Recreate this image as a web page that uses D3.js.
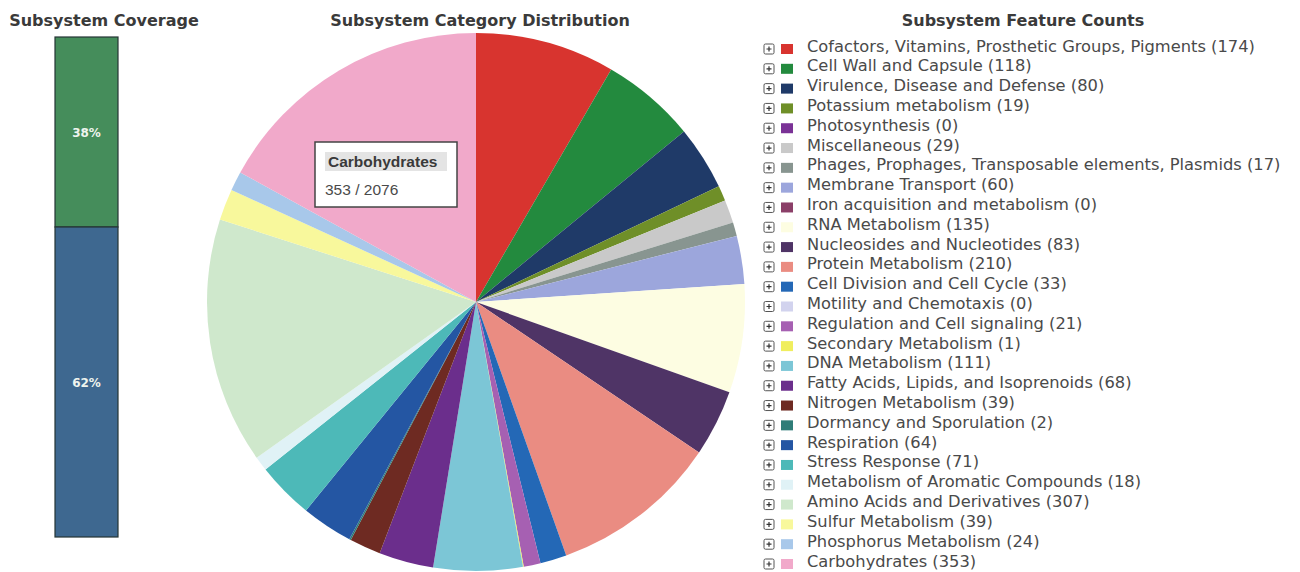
<!DOCTYPE html>
<html>
<head>
    <title>Subsystem Overview</title>
    <script src="https://d3js.org/d3.v7.min.js"></script>
    <style>
        body { margin: 0; background: #fff; }
        text { font-family: "DejaVu Sans", Verdana, sans-serif; }
    </style>
</head>
<body>
<div id="chart"></div>
<script>
    // Data
    const categories = [
        "Cofactors, Vitamins, Prosthetic Groups, Pigments",
        "Cell Wall and Capsule",
        "Virulence, Disease and Defense",
        "Potassium metabolism",
        "Photosynthesis",
        "Miscellaneous",
        "Phages, Prophages, Transposable elements, Plasmids",
        "Membrane Transport",
        "Iron acquisition and metabolism",
        "RNA Metabolism",
        "Nucleosides and Nucleotides",
        "Protein Metabolism",
        "Cell Division and Cell Cycle",
        "Motility and Chemotaxis",
        "Regulation and Cell signaling",
        "Secondary Metabolism",
        "DNA Metabolism",
        "Fatty Acids, Lipids, and Isoprenoids",
        "Nitrogen Metabolism",
        "Dormancy and Sporulation",
        "Respiration",
        "Stress Response",
        "Metabolism of Aromatic Compounds",
        "Amino Acids and Derivatives",
        "Sulfur Metabolism",
        "Phosphorus Metabolism",
        "Carbohydrates"
    ];
    const counts = [174, 118, 80, 19, 0, 29, 17, 60, 0, 135, 83, 210, 33, 0, 21, 1, 111, 68, 39, 2, 64, 71, 18, 307, 39, 24, 353];
    const colors = [
        "#d8342f", "#238a3e", "#1f3a68", "#6f8f28", "#7a3296", "#c9c9c9", "#889590",
        "#9ca6dc", "#8b3f68", "#fdfde2", "#4f3466", "#ea8c82", "#2468b6", "#d2d3ee",
        "#a660b2", "#f0ee5e", "#7cc6d6", "#6b2e8c", "#6e2a22", "#2f7d78", "#2456a3",
        "#4db9b8", "#e0f2f6", "#cfe8cc", "#f8f89c", "#a8c8ea", "#f1a9ca"
    ];
    const coverageLabels = ["38%", "62%"];
    const coverageValues = [38, 62];
    const coverageColors = ["#458d5b", "#3e6890"];
    const tooltipIndex = 26;

    const width = 1300, height = 572;
    const svg = d3.select("#chart").append("svg")
        .attr("width", width)
        .attr("height", height);

    // Titles
    const titles = [
        { text: "Subsystem Coverage", x: 104 },
        { text: "Subsystem Category Distribution", x: 480 },
        { text: "Subsystem Feature Counts", x: 1023 }
    ];
    svg.selectAll(".title")
        .data(titles)
        .join("text")
        .attr("class", "title")
        .attr("x", d => d.x)
        .attr("y", 26)
        .attr("text-anchor", "middle")
        .style("font-size", "16px")
        .style("font-weight", "bold")
        .style("fill", "#3a3a3a")
        .text(d => d.text);

    // Coverage bar
    const barX = 55, barW = 63;
    const yCov = d3.scaleLinear().domain([0, 100]).range([37, 537]);
    const covStack = d3.cumsum([0, ...coverageValues]);
    const covG = svg.append("g");
    covG.selectAll("rect")
        .data(coverageValues)
        .join("rect")
        .attr("x", barX)
        .attr("y", (d, i) => yCov(covStack[i]))
        .attr("width", barW)
        .attr("height", d => yCov(d) - yCov(0))
        .attr("fill", (d, i) => coverageColors[i])
        .attr("stroke", "#253535")
        .attr("stroke-width", 1.2);
    covG.selectAll("text")
        .data(coverageValues)
        .join("text")
        .attr("x", barX + barW / 2)
        .attr("y", (d, i) => yCov(covStack[i] + d / 2) + 5)
        .attr("text-anchor", "middle")
        .style("font-size", "12px")
        .style("font-weight", "bold")
        .style("fill", "#eef4ee")
        .text((d, i) => coverageLabels[i]);

    // Pie
    const cx = 476, cy = 302, radius = 269;
    const total = d3.sum(counts);
    const pie = d3.pie().sort(null).value(d => d);
    const arc = d3.arc().innerRadius(0).outerRadius(radius);
    const pieG = svg.append("g").attr("transform", `translate(${cx},${cy})`);
    pieG.selectAll("path")
        .data(pie(counts))
        .join("path")
        .attr("d", arc)
        .attr("fill", (d, i) => colors[i]);

    // Tooltip box over the pie
    const tip = svg.append("g").attr("transform", "translate(315,142)");
    tip.append("rect")
        .attr("width", 142).attr("height", 65)
        .attr("fill", "#fff")
        .attr("stroke", "#444")
        .attr("stroke-width", 1.5);
    tip.append("rect")
        .attr("x", 10).attr("y", 10)
        .attr("width", 122).attr("height", 19)
        .attr("fill", "#e4e4e4");
    tip.append("text")
        .attr("x", 13).attr("y", 25)
        .style("font-family", "'Liberation Sans', Arial, sans-serif")
        .style("font-size", "15.5px")
        .style("font-weight", "bold")
        .style("fill", "#3a3a3a")
        .text(categories[tooltipIndex]);
    tip.append("text")
        .attr("x", 10).attr("y", 53)
        .style("font-family", "'Liberation Sans', Arial, sans-serif")
        .style("font-size", "15.5px")
        .style("fill", "#4a4a4a")
        .text(`${counts[tooltipIndex]} / ${total}`);

    // Legend
    const yLeg = d3.scalePoint().domain(d3.range(categories.length)).range([46, 561]);
    const leg = svg.append("g").selectAll("g")
        .data(categories)
        .join("g")
        .attr("transform", (d, i) => `translate(764,${yLeg(i)})`);
    leg.append("rect")
        .attr("x", 0).attr("y", -2)
        .attr("width", 10).attr("height", 10)
        .attr("rx", 1.5)
        .attr("fill", "#fff")
        .attr("stroke", "#555")
        .attr("stroke-width", 1);
    leg.append("path")
        .attr("d", "M2.5,3H7.5M5,0.5V5.5")
        .attr("stroke", "#333")
        .attr("stroke-width", 1.2);
    leg.append("rect")
        .attr("x", 17).attr("y", -2)
        .attr("width", 12).attr("height", 10)
        .attr("fill", (d, i) => colors[i]);
    leg.append("text")
        .attr("x", 43).attr("y", 5.5)
        .style("font-size", "16.3px")
        .style("fill", "#4a4a4a")
        .text((d, i) => `${d} (${counts[i]})`);
</script>
</body>
</html>
